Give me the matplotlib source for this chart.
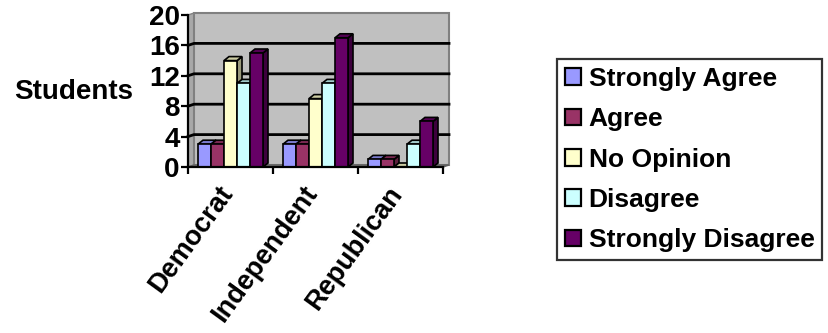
import matplotlib
matplotlib.use("Agg")
import matplotlib.pyplot as plt
from matplotlib.patches import Polygon, Patch
from matplotlib.colors import to_rgb

# Survey results: number of students per party and response
categories = ["Democrat", "Independent", "Republican"]
responses = ["Strongly Agree", "Agree", "No Opinion", "Disagree", "Strongly Disagree"]
strongly_agree = [3, 3, 1]
agree = [3, 3, 1]
no_opinion = [14, 9, 0]
disagree = [11, 11, 3]
strongly_disagree = [15, 17, 6]
y_ticks = [0, 4, 8, 12, 16, 20]

series = [strongly_agree, agree, no_opinion, disagree, strongly_disagree]
colors = ["#9999FF", "#993366", "#FFFFCC", "#CCFFFF", "#660066"]

plt.rcParams["font.family"] = ["Liberation Sans", "DejaVu Sans"]
plt.rcParams["font.weight"] = "bold"

W, H = 829, 333
fig = plt.figure(figsize=(W / 100, H / 100), dpi=100)
ax = fig.add_axes([188 / W, 1 - 167 / H, 255 / W, 152 / H])
ax.set_xlim(0, len(categories))
ax.set_ylim(0, 20)

# pixel -> data conversion, used for the pseudo-3D depth
px_x = 255 / len(categories)
px_y = 152 / 20.0
wall_dx, wall_dy = 6 / px_x, 2 / px_y
bar_dx, bar_dy = 5 / px_x, 4 / px_y


def shade(c, f):
    r, g, b = to_rgb(c)
    return (r * f, g * f, b * f)


n_cat = len(categories)
# side wall, back wall and floor
ax.add_patch(Polygon([(0, 0), (wall_dx, wall_dy), (wall_dx, 20 + wall_dy), (0, 20)],
                     closed=True, facecolor="#A8A8A8", edgecolor="#808080", lw=1,
                     clip_on=False, zorder=0))
ax.add_patch(Polygon([(wall_dx, wall_dy), (n_cat + wall_dx, wall_dy),
                      (n_cat + wall_dx, 20 + wall_dy), (wall_dx, 20 + wall_dy)],
                     closed=True, facecolor="#C0C0C0", edgecolor="#808080", lw=1.5,
                     clip_on=False, zorder=0))
ax.add_patch(Polygon([(0, 0), (n_cat, 0), (n_cat + wall_dx, wall_dy), (wall_dx, wall_dy)],
                     closed=True, facecolor="#808080", edgecolor="#606060", lw=1,
                     clip_on=False, zorder=0.5))
for t in y_ticks[1:-1]:
    ax.plot([0, wall_dx, n_cat + wall_dx], [t, t + wall_dy, t + wall_dy],
            color="black", lw=2, clip_on=False, zorder=0.6)

# 3D-looking columns
bw = 13 / px_x
z = 1
for ci in range(n_cat):
    center = ci + 0.5
    for si, vals in enumerate(series):
        v = vals[ci]
        x0 = center + (si - len(series) / 2) * bw
        c = colors[si]
        ax.add_patch(Polygon([(x0 + bw, 0), (x0 + bw + bar_dx, bar_dy),
                              (x0 + bw + bar_dx, v + bar_dy), (x0 + bw, v)],
                             closed=True, facecolor=shade(c, 0.6), edgecolor="black",
                             lw=1.2, zorder=z, clip_on=False))
        ax.add_patch(Polygon([(x0, v), (x0 + bw, v), (x0 + bw + bar_dx, v + bar_dy),
                              (x0 + bar_dx, v + bar_dy)],
                             closed=True, facecolor=shade(c, 0.8), edgecolor="black",
                             lw=1.2, zorder=z, clip_on=False))
        if v > 0:
            ax.bar(x0, v, width=bw, align="edge", color=c, edgecolor="black",
                   lw=1.2, zorder=z)
        z += 1

# axes styling
for s in ["top", "right"]:
    ax.spines[s].set_visible(False)
for s in ["left", "bottom"]:
    ax.spines[s].set_linewidth(1.6)
    ax.spines[s].set_zorder(50)
ax.set_yticks(y_ticks)
ax.set_yticklabels([str(t) for t in y_ticks], fontsize=20, fontweight="bold")
ax.set_xticks(range(n_cat + 1))
ax.set_xticklabels([])
ax.tick_params(axis="both", direction="out", length=5, width=1.6, pad=1)
ax.set_facecolor("none")

for ci, name in enumerate(categories):
    ax.annotate(name, xy=(ci + 0.5, 0), xycoords="data", xytext=(-3, -22),
                textcoords="offset pixels", rotation=54, rotation_mode="anchor",
                ha="right", va="center", fontsize=19.5, fontweight="bold",
                annotation_clip=False)

fig.text(133 / W, 1 - 92 / H, "Students", ha="right", va="center",
         fontsize=20, fontweight="bold")

handles = [Patch(facecolor=c, edgecolor="black", lw=1.6) for c in colors]
leg = fig.legend(handles, responses, loc="upper left",
                 bbox_to_anchor=(557 / W, 1 - 59 / H), borderaxespad=0,
                 prop={"weight": "bold", "size": 19},
                 handlelength=0.6, handleheight=0.6, handletextpad=0.3,
                 labelspacing=0.62, borderpad=0.3, frameon=True, fancybox=False)
leg.get_frame().set_edgecolor("black")
leg.get_frame().set_linewidth(1.6)

fig.savefig("out.png", dpi=100)
